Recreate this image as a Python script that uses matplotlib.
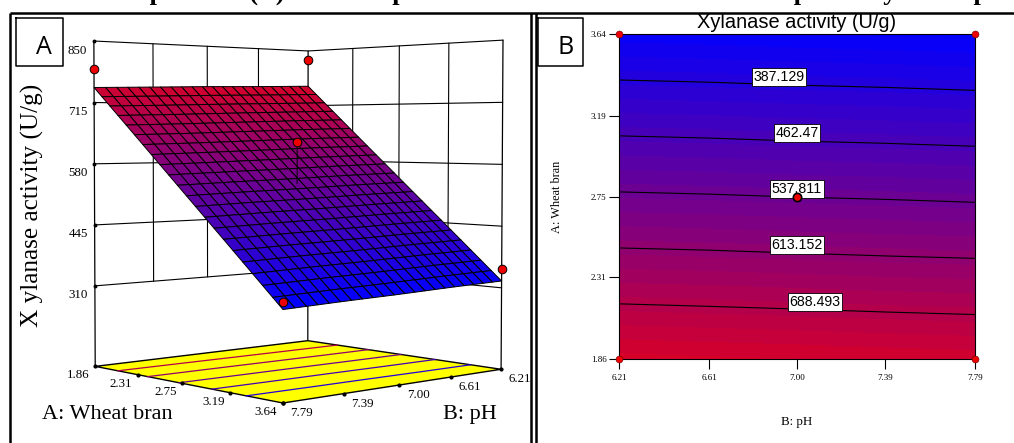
import matplotlib
matplotlib.use("Agg")
import matplotlib.pyplot as plt
import numpy as np
from matplotlib.collections import PolyCollection
from matplotlib.colors import LinearSegmentedColormap

# values
wheat_ticks = [1.86, 2.31, 2.75, 3.19, 3.64]
ph_ticks = [6.21, 6.61, 7.00, 7.39, 7.79]
activity_ticks = [310, 445, 580, 715, 850]
floor_level = 131

# rows follow wheat_ticks, columns follow ph_ticks
activity_table = np.array([
    [763, 759, 756, 752, 748],
    [652, 649, 645, 641, 638],
    [544, 541, 537, 534, 530],
    [436, 433, 429, 426, 422],
    [325, 322, 318, 315, 311],
], dtype=float)

contour_levels = [387.129, 462.47, 537.811, 613.152, 688.493]
label_text = ["387.129", "462.47", "537.811", "613.152", "688.493"]
label_ph = [6.92, 7.00, 7.00, 7.00, 7.08]
label_wheat = [3.404, 3.098, 2.791, 2.484, 2.172]

point_wheat = [1.86, 1.86, 3.64, 3.64, 2.75]
point_ph = [7.79, 6.21, 6.21, 7.79, 7.00]
point_activity = [788, 828, 352, 325, 628]

W, H = 1014, 443
fig = plt.figure(figsize=(W / 100, H / 100), dpi=100)
bg = fig.add_axes([0, 0, 1, 1])
bg.set_xlim(0, W)
bg.set_ylim(H, 0)
bg.axis("off")

serif = "Liberation Serif"
sans = "Liberation Sans"
cmap = LinearSegmentedColormap.from_list("rsm", [(0, 0, 1), (0.84, 0, 0.16)])
vmin, vmax = 311, 763


# projection of the 3D box onto the page, fitted on its visible corners
def fit_projection():
    world = [(1.86, 7.79, floor_level), (1.86, 7.79, 850),
             (1.86, 6.21, floor_level), (1.86, 6.21, 850),
             (3.64, 6.21, floor_level), (3.64, 6.21, 850),
             (3.64, 7.79, floor_level), (3.64, 7.79, 311)]
    page = [(95, 366), (94, 41), (308, 341), (308, 51),
            (501, 369), (503, 40), (283, 403), (283, 310)]
    rows = []
    for (a, b, z), (x, y) in zip(world, page):
        p = [a, b, z / 100, 1]
        rows.append(p + [0, 0, 0, 0] + [-x * v for v in p])
        rows.append([0, 0, 0, 0] + p + [-y * v for v in p])
    return np.linalg.svd(np.array(rows))[2][-1].reshape(3, 4)


P = fit_projection()


def project(a, b, z):
    a, b, z = np.broadcast_arrays(np.asarray(a, float), np.asarray(b, float), np.asarray(z, float))
    q = P @ np.stack([a.ravel(), b.ravel(), z.ravel() / 100, np.ones(a.size)])
    return (q[0] / q[2]).reshape(a.shape), (q[1] / q[2]).reshape(a.shape)


def surface(a_vals, b_vals):
    by_ph = np.array([np.interp(b_vals, ph_ticks, row) for row in activity_table])
    return np.array([np.interp(a_vals, wheat_ticks, col) for col in by_ph.T]).T


def line3d(a, b, z, **kw):
    x, y = project(a, b, z)
    bg.plot(x, y, color="black", solid_capstyle="round", **kw)


# panel frames
for x0 in [10, 530.5, 536]:
    bg.plot([x0, x0], [H, 12.5], color="black", lw=1.8, solid_capstyle="butt")
bg.plot([10, W], [12.5, 12.5], color="black", lw=1.8, solid_capstyle="butt")
bg.text(61, -0.8, "surface plot and (B) Contour plot of the effect of wheat bran and pH on xylanase production",
        family=serif, weight="bold", fontsize=19, ha="left", va="baseline", clip_on=True)

# back walls of the box
a0, a1 = wheat_ticks[0], wheat_ticks[-1]
b0, b1 = ph_ticks[0], ph_ticks[-1]
for z in activity_ticks:
    line3d([a0, a0, a1], [b1, b0, b0], [z, z, z], lw=0.8)
for b in ph_ticks[1:-1]:
    line3d([a0, a0], [b, b], [310, 850], lw=0.8)
for a in wheat_ticks[1:-1]:
    line3d([a, a], [b0, b0], [310, 850], lw=0.8)
for a, b in [(a0, b1), (a0, b0), (a1, b0)]:
    line3d([a, a], [b, b], [floor_level, 850], lw=0.9)
for z in activity_ticks:
    x, y = project(a0, b1, z)
    bg.plot(x, y, "o", color="black", ms=1.8)
    bg.text(x - 7, y + 9.5, str(z), family=serif, fontsize=9.3, ha="right", va="center")

# floor with the projected contour lines
fx, fy = project([a0, a0, a1, a1], [b1, b0, b0, b1], floor_level)
bg.fill(fx, fy, facecolor="#ffff00", edgecolor="black", lw=1.0, zorder=2)

# surface mesh
n_cells = 21
a_edges = np.linspace(a0, a1, n_cells + 1)
b_edges = np.linspace(b0, b1, n_cells + 1)
zz = surface(a_edges, b_edges)
aa, bb = np.meshgrid(a_edges, b_edges, indexing="ij")
sx, sy = project(aa, bb, zz)
polys, faces = [], []
for i in range(n_cells):
    for j in range(n_cells):
        polys.append([(sx[i, j], sy[i, j]), (sx[i + 1, j], sy[i + 1, j]),
                      (sx[i + 1, j + 1], sy[i + 1, j + 1]), (sx[i, j + 1], sy[i, j + 1])])
        faces.append(cmap((zz[i:i + 2, j:j + 2].mean() - vmin) / (vmax - vmin)))
bg.add_collection(PolyCollection(polys, facecolors=faces, edgecolors="black", linewidths=0.7, zorder=3))

# design points of panel A
z_here = surface(np.array([2.75]), np.array([7.00]))[0, 0]
line3d([2.75, 2.75], [7.00, 7.00], [z_here, point_activity[4]], lw=0.7, zorder=4)
px, py = project(point_wheat, point_ph, point_activity)
bg.plot(px, py, "o", mfc="#ee0000", mec="black", mew=0.7, ms=6.2, ls="none", zorder=5)

# floor tick labels
for a in wheat_ticks:
    x, y = project(a, b1, floor_level)
    bg.plot(x, y, "o", color="black", ms=2, zorder=3)
    bg.text(x - 17, y + 9, f"{a:.2f}", family=serif, fontsize=9.3, ha="center", va="center")
for b in ph_ticks:
    x, y = project(a1, b, floor_level)
    bg.plot(x, y, "o", color="black", ms=2, zorder=3)
    bg.text(x + 19, y + 10, f"{b:.2f}", family=serif, fontsize=9.3, ha="center", va="center")

bg.text(32, 205, "X ylanase activity (U/g)", family=serif, fontsize=18.2, rotation=90, ha="center", va="center")
bg.text(42, 419, "A: Wheat bran", family=serif, fontsize=16, ha="left", va="baseline")
bg.text(443, 419, "B: pH", family=serif, fontsize=16, ha="left", va="baseline")

# letter boxes
for x0, x1, letter in [(15.5, 62.5, "A"), (538, 582.5, "B")]:
    bg.plot([x0, x1, x1, x0, x0], [18, 18, 66, 66, 18], color="black", lw=1.1)
    bg.text(x0 + 28, 47, letter, family="Open Sans", fontsize=18, ha="center", va="center")

# panel B
ax = fig.add_axes([619 / W, 1 - 359 / H, 356 / W, 325 / H])
fine_b = np.linspace(b0, b1, 41)
fine_a = np.linspace(a0, a1, 81)
fine_z = surface(fine_a, fine_b)
ax.contourf(fine_b, fine_a, fine_z, levels=np.linspace(vmin - 12, vmax + 12, 26), cmap=cmap, vmin=vmin, vmax=vmax)
cs = ax.contour(fine_b, fine_a, fine_z, levels=contour_levels, colors="black", linewidths=0.8)
for txt, b, a in zip(label_text, label_ph, label_wheat):
    ax.text(b, a, txt, family=sans, fontsize=10.2, ha="center", va="center", zorder=6,
            bbox=dict(facecolor="white", edgecolor="black", lw=0.6, pad=1.2))
ax.plot(point_ph[:4], point_wheat[:4], "o", mfc="#ee0000", mec="#660000",
        mew=0.4, ms=5, ls="none", clip_on=False, zorder=7)
ax.plot(point_ph[4], point_wheat[4], "o", mfc="#ee0000", mec="black", mew=1.2, ms=6, clip_on=False, zorder=7)
ax.set_xlim(b0, b1)
ax.set_ylim(a0, a1)
ax.set_xticks(ph_ticks, [f"{v:.2f}" for v in ph_ticks], family=serif, fontsize=6.5)
ax.set_yticks(wheat_ticks, [f"{v:.2f}" for v in wheat_ticks], family=serif, fontsize=6.5)
ax.tick_params(axis="x", length=7, width=0.8, pad=4)
ax.tick_params(axis="y", length=7, width=0.8, pad=2)
ax.set_xlabel("B: pH", family=serif, fontsize=9.3, labelpad=24)
ax.set_ylabel("A: Wheat bran", family=serif, fontsize=8.8, labelpad=20)
ax.set_title("Xylanase activity (U/g)", family=sans, fontsize=14.4, pad=4)

# contours of panel B repeated on the floor of panel A
for level, path in zip(contour_levels, cs.get_paths()):
    verts = path.vertices
    x, y = project(verts[:, 1], verts[:, 0], floor_level)
    bg.plot(x, y, color=cmap((level - vmin) / (vmax - vmin)), lw=0.9, zorder=2.5)

fig.savefig("out.png", dpi=100)
